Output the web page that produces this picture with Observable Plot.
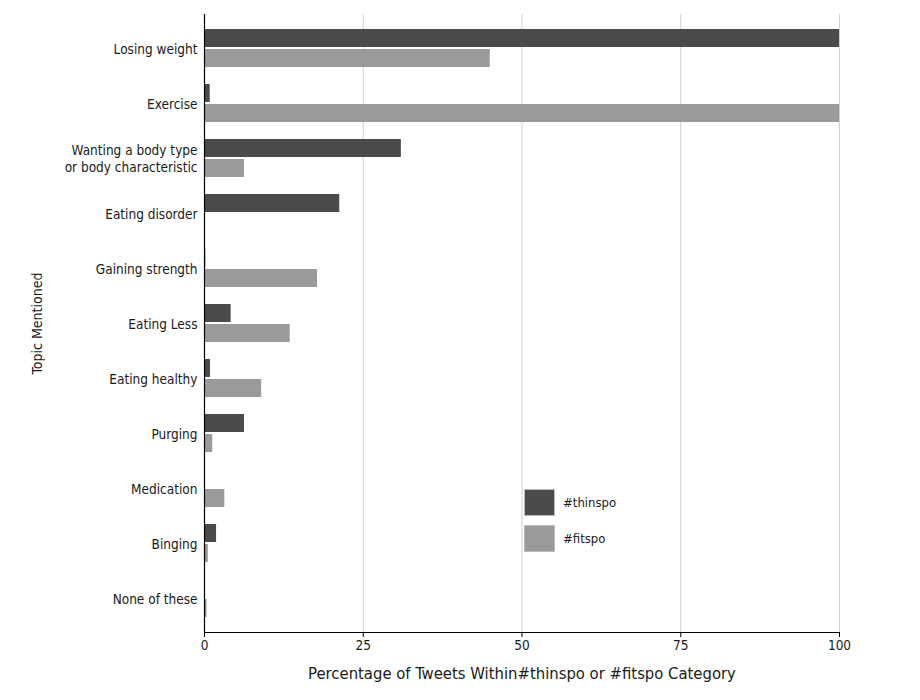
<!DOCTYPE html>
<html>
<head>
<meta charset="utf-8">
<script src="https://cdn.jsdelivr.net/npm/d3@7"></script>
<script src="https://cdn.jsdelivr.net/npm/@observablehq/plot@0.6"></script>
<style>
  html, body { margin: 0; padding: 0; background: #fff; }
  #wrap { position: relative; width: 920px; height: 700px; font-family: "DejaVu Sans Condensed", "DejaVu Sans", sans-serif; }
  #legend { position: absolute; left: 524px; top: 489px; font-size: 13px; color: #1a1a1a; }
  .item { display: flex; align-items: center; height: 27px; margin-bottom: 9px; }
  .sw { width: 29px; height: 25px; border: 1px solid #bbb; margin-right: 8px; }
  svg [aria-label="x-axis label"] text { font-size: 16.5px; }
  svg [aria-label="y-axis label"] text { font-size: 14px; }
</style>
</head>
<body>
<div id="wrap"><div id="legend"></div></div>
<script>
const topics = ["Losing weight", "Exercise", "Wanting a body type\nor body characteristic", "Eating disorder", "Gaining strength", "Eating Less", "Eating healthy", "Purging", "Medication", "Binging", "None of these"];
const thinspo = [100, 0.9, 31.0, 21.3, 0.2, 4.2, 0.95, 6.3, 0, 1.9, 0];
const fitspo = [45.0, 100, 6.3, 0, 17.8, 13.5, 9.0, 1.3, 3.2, 0.6, 0.4];
const xTicks = [0, 25, 50, 75, 100];
const seriesNames = ["#thinspo", "#fitspo"];
const seriesColors = ["#4d4a4e", "#9b999c"];

const rowsThin = topics.map((t, i) => ({topic: t, value: thinspo[i]}));
const rowsFit = topics.map((t, i) => ({topic: t, value: fitspo[i]}));

const chart = Plot.plot({
  width: 920,
  height: 700,
  marginLeft: 204,
  marginRight: 81,
  marginTop: 14,
  marginBottom: 68,
  style: {fontFamily: "'DejaVu Sans Condensed', 'DejaVu Sans', sans-serif", fontSize: "13.5px", color: "#1a1a1a", background: "#fff"},
  x: {domain: [0, 100]},
  y: {type: "band", domain: topics, paddingInner: 0.317, paddingOuter: 0.216},
  marks: [
    Plot.gridX(xTicks.slice(1), {stroke: "#d0d0d0", strokeOpacity: 1}),
    Plot.barX(rowsThin, {x: "value", y: "topic", fill: seriesColors[0], insetBottom: 20}),
    Plot.barX(rowsFit, {x: "value", y: "topic", fill: seriesColors[1], insetTop: 20}),
    Plot.ruleX([0], {stroke: "#000", strokeWidth: 1.2}),
    Plot.frame({anchor: "bottom", stroke: "#000"}),
    Plot.axisX(xTicks, {anchor: "bottom", tickSize: 5, tickPadding: 3, stroke: "#000",
      label: "Percentage of Tweets Within#thinspo or #fitspo Category", labelArrow: "none", labelAnchor: "center", labelOffset: 46}),
    Plot.axisY({anchor: "left", tickSize: 0, tickPadding: 7, lineHeight: 1.25,
      label: "Topic Mentioned", labelAnchor: "center", labelOffset: 172})
  ]
});
document.getElementById("wrap").appendChild(chart);

const legend = document.getElementById("legend");
seriesNames.forEach((name, i) => {
  const item = document.createElement("div");
  item.className = "item";
  const sw = document.createElement("div");
  sw.className = "sw";
  sw.style.background = seriesColors[i];
  const label = document.createElement("span");
  label.textContent = name;
  item.appendChild(sw);
  item.appendChild(label);
  legend.appendChild(item);
});
</script>
</body>
</html>
